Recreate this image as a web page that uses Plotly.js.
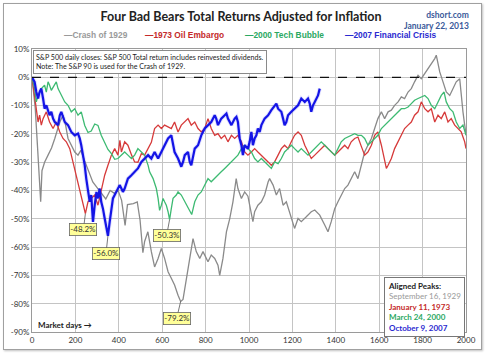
<!DOCTYPE html>
<html>
<head>
<meta charset="utf-8">
<script src="https://cdn.plot.ly/plotly-3.0.1.min.js"></script>
<style>
html,body{margin:0;padding:0;background:#fff;}
#wrap{position:relative;width:485px;height:356px;}
#chart{width:485px;height:356px;}
#frame{position:absolute;left:3px;top:3px;width:477px;height:345px;border:1px solid #a0a0a0;pointer-events:none;box-shadow:1px 1px 2px rgba(0,0,0,0.25);}
</style>
</head>
<body>
<div id="wrap"><div id="chart"></div><div id="frame"></div></div>
<script>
// ---- Data (market days since aligned peak, real total return %) ----
const seriesNames = ["Crash of 1929", "1973 Oil Embargo", "2000 Tech Bubble", "2007 Financial Crisis"];
const peakDates = ["September 16, 1929", "January 11, 1973", "March 24, 2000", "October 9, 2007"];
const sourceLines = ["dshort.com", "January 22, 2013"];

const crashDays = [0,15,25,31,40,46,58,74,90,105,120,128,143,155,166,180,197,212,225,240,260,280,300,320,340,360,380,397,413,429,440,467,485,498,511,519,534,550,565,581,596,611,627,642,657,673,685,696,711,727,742,757,773,788,811,826,842,857,865,880,896,911,926,941,949,965,980,995,1018,1026,1041,1057,1072,1088,1095,1111,1126,1141,1157,1172,1187,1203,1210,1226,1241,1264,1287,1303,1326,1349,1364,1379,1395,1410,1425,1441,1456,1471,1487,1502,1518,1533,1548,1564,1579,1594,1610,1625,1641,1656,1671,1687,1702,1717,1733,1748,1763,1779,1794,1810,1825,1840,1856,1863,1879,1894,1909,1925,1940,1955,1971,1978,1986,1994,2000];
const crashVals = [0,-11,-24,-33,-44,-33,-30,-27.5,-25,-21.6,-18,-15.8,-13.4,-17,-21.6,-24,-26.4,-27.5,-25.8,-29,-33,-37,-39,-41,-43,-40,-41,-40,-43.5,-52.3,-45,-44.6,-44,-50.5,-62,-58,-54.6,-61.6,-67,-64,-60.5,-64,-68.7,-71,-73.4,-77,-79.2,-78.5,-71,-64,-57,-61.6,-64,-61.6,-65.2,-62.8,-64,-66.4,-70,-64,-54.6,-50,-44,-35.8,-39.3,-42.8,-40.5,-42,-51,-47.5,-45.2,-44,-41.6,-37,-35.8,-38.1,-41.6,-39.3,-45.2,-44,-47.5,-51,-53.4,-49.9,-51,-49.3,-47.5,-46.9,-48.7,-52.2,-54.6,-51,-46.4,-44,-41.6,-39.3,-38.1,-35.8,-33.4,-35.8,-31.1,-26.4,-24,-21.6,-18.1,-14.6,-12.2,-14.6,-12.2,-11.6,-9.9,-8.7,-6.9,-7.5,-5.2,-4,-1.6,0.7,-0.5,1.3,3.1,4.8,6.6,7.8,1.9,-1.6,-5.2,-6.4,-4,-1.6,-0.5,-6.4,-12.2,-16.9,-20];

const oilDays = [0,12,20,28,35,43,51,66,81,97,112,128,143,158,174,189,204,220,235,246,258,273,289,304,319,335,350,366,381,396,405,412,427,442,459,473,488,504,519,535,550,565,581,596,611,627,642,657,673,688,704,719,734,750,765,780,796,811,826,842,857,872,888,903,919,934,949,965,980,995,1011,1026,1041,1057,1072,1088,1103,1118,1134,1149,1164,1180,1195,1210,1226,1241,1257,1272,1287,1303,1318,1333,1349,1364,1379,1395,1410,1425,1441,1456,1471,1487,1502,1518,1533,1548,1564,1579,1594,1610,1625,1633,1641,1656,1671,1687,1702,1717,1733,1748,1763,1779,1794,1810,1825,1840,1856,1871,1886,1902,1917,1932,1948,1963,1978,1994,2000];
const oilVals = [0,-6.4,-12.2,-15.8,-13.4,-16.9,-14.6,-12.2,-15.8,-18.1,-15.8,-19.3,-21.6,-22.8,-25.2,-29.9,-34.6,-39.3,-44,-48.2,-44,-42.8,-41.6,-45.2,-40.5,-34.6,-31.1,-27.5,-25.2,-27.5,-22.3,-26.4,-22.8,-24,-27.5,-29.9,-30,-27,-27.5,-25,-23,-18.1,-16.9,-18.1,-16.9,-17.5,-18.1,-15.8,-19.3,-16.9,-15.8,-14.6,-16.9,-15.8,-18.1,-19.3,-18.1,-14.6,-18.1,-20.5,-19.9,-21.6,-20.5,-22.8,-20.5,-21.6,-20.5,-22.8,-26.4,-27.5,-26.4,-25.2,-26.4,-27.5,-28.7,-29.9,-31.1,-29.9,-27.5,-25.2,-24,-25.2,-22.8,-20.5,-19.3,-20.5,-24,-26.4,-28.7,-27.5,-26.4,-25.2,-24,-25.2,-26.4,-27.5,-26.4,-25.2,-24,-25.2,-22.8,-21.6,-21.1,-24.5,-27.5,-26.4,-24,-20.5,-19.3,-24,-29.9,-32.2,-31.1,-28.7,-25.2,-22.8,-20.5,-18.1,-16.9,-15.8,-13.4,-12.2,-8.7,-11.1,-12.2,-11.1,-15.8,-13.4,-14.6,-12.2,-15.8,-14.6,-16.9,-18.1,-19.3,-22.8,-25.2];

const techDays = [0,12,20,28,43,58,66,74,81,89,105,112,120,135,151,166,181,197,212,227,243,258,273,289,304,319,335,350,366,381,396,412,427,442,458,473,488,504,519,535,542,558,573,581,588,596,604,611,619,627,634,642,650,665,673,688,704,719,736,750,765,780,796,811,826,842,857,872,888,903,919,934,949,965,980,995,1011,1026,1041,1057,1072,1088,1103,1118,1134,1149,1164,1180,1195,1210,1226,1241,1257,1272,1287,1303,1318,1333,1349,1364,1379,1395,1410,1425,1441,1456,1471,1487,1502,1518,1533,1548,1564,1579,1594,1610,1625,1641,1656,1671,1687,1702,1717,1733,1748,1763,1779,1794,1810,1825,1840,1856,1871,1886,1899,1909,1925,1940,1955,1971,1986,2000];
const techVals = [0,-4,-8.7,-6.4,-4,-2.8,-5.2,-1.6,-2.8,-4.6,-2.5,-1.6,-4,-6.4,-8.7,-9.9,-12.2,-11.1,-13.4,-12.2,-17,-19.5,-19,-16.5,-17,-20.5,-22.8,-25.5,-27,-29,-28.7,-27.5,-26.4,-27.5,-28.7,-27.5,-25.2,-26.4,-27.5,-31.1,-33.4,-35.8,-39.3,-42.8,-47,-45.2,-42.8,-44,-45.2,-47.5,-50.3,-46.4,-42.8,-41.6,-40.5,-41.6,-44,-46.4,-48.5,-44,-41.6,-40.5,-38.1,-35.8,-36.9,-35.8,-34.6,-33.4,-32.2,-31.1,-29.9,-28.7,-27.5,-25.2,-24,-25.2,-26.4,-28.7,-29.9,-28.7,-29.9,-31.1,-32.2,-29.9,-30.5,-28.7,-26.4,-25.2,-24,-25.2,-26.4,-25.2,-26.4,-27.5,-26.4,-25.2,-24,-22.8,-24,-25.2,-26.4,-27.5,-25.2,-22.8,-21.6,-21.1,-20.5,-19.9,-20.5,-20.5,-21.6,-24,-22.8,-21.6,-20.5,-18.1,-16.9,-15.8,-14.6,-13.4,-12.2,-11.1,-11.1,-10.5,-9.3,-8.1,-7.5,-6.9,-6.4,-7.5,-9.9,-11.1,-8.7,-6.4,-5.2,-8.7,-11.1,-12.2,-15.8,-18.1,-16.9,-20.5];

const finDays = [0,12,20,28,35,43,51,58,66,74,81,89,97,105,120,128,135,151,166,181,197,212,220,227,235,243,250,258,266,273,281,289,297,304,312,319,327,335,343,350,358,366,373,381,389,396,404,412,419,427,442,458,473,488,504,519,535,550,565,581,596,611,627,642,650,657,673,688,696,704,719,727,734,742,750,765,773,780,796,811,826,842,849,857,872,888,896,903,919,934,942,949,957,965,972,980,995,1003,1011,1018,1026,1034,1041,1049,1057,1072,1088,1103,1118,1126,1134,1149,1157,1164,1172,1180,1195,1210,1226,1241,1257,1272,1280,1287,1295,1303,1310,1318,1326];
const finVals = [0,-1.6,-5.2,-7.5,-5.2,-4,-7.5,-11.1,-9.9,-12.2,-13.4,-12.2,-14.6,-15.8,-16.9,-13.4,-12.2,-15.8,-16.9,-19.3,-20.5,-19.9,-21.6,-24,-27.5,-31.1,-35.8,-40.5,-44,-41.6,-51.1,-45.2,-40.5,-42.8,-39.3,-44,-46.4,-49.9,-53.4,-56.0,-51.1,-46.4,-42.8,-41.6,-40.5,-39.3,-38.1,-39.3,-40.5,-39.3,-35.8,-34.6,-33.4,-32.2,-29.9,-28.7,-27.5,-28.7,-26.4,-28.7,-26.4,-24,-21.6,-20.5,-24,-26.4,-28.7,-31.6,-29.9,-27.5,-26.4,-29.9,-31.1,-27.5,-25.2,-24,-21.6,-20.5,-18.1,-16.9,-15.8,-13.4,-14.6,-16.9,-14.6,-13.4,-12.8,-14.6,-16.9,-14.6,-14,-15.8,-21.6,-24,-27.5,-24,-25.2,-22.8,-19.3,-24,-21.6,-20.5,-18.1,-19.3,-16.9,-14.6,-13.4,-11.6,-9.9,-9.3,-11.1,-12.2,-14.6,-16.9,-15.8,-13.4,-12.2,-11.1,-9.9,-7.5,-8.7,-7.5,-9.3,-12.2,-9.9,-8.7,-7.5,-6.4,-4];

const xTickVals = [0,200,400,600,800,1000,1200,1400,1600,1800,2000];
const yTickVals = [10,0,-10,-20,-30,-40,-50,-60,-70,-80,-90];
const yTickText = ["10%","0%","-10%","-20%","-30%","-40%","-50%","-60%","-70%","-80%","-90%"];

const noteLines = ["S&P 500 daily closes: S&P 500 Total return includes reinvested dividends.", "Note: The S&P 90 is used for the Crash of 1929."];

// ---- Styles ----
const lineColors = ["#8a8a8a", "#d63a3a", "#3dba72", "#1414e6"];
const textColors = ["#9a9a9a", "#c42a2a", "#2aa862", "#2a2ad0"];
const FONT = "Lato, 'Open Sans', sans-serif";

const allDays = [crashDays, oilDays, techDays, finDays];
const allVals = [crashVals, oilVals, techVals, finVals];

const traces = [];
for (let i = 0; i < 4; i++) {
  if (i === 3) {
    traces.push({x: allDays[i], y: allVals[i], type: "scatter", mode: "lines",
      line: {color: "rgba(40,40,255,0.15)", width: 4}, hoverinfo: "skip", showlegend: false});
  }
  traces.push({x: allDays[i], y: allVals[i], type: "scatter", mode: "lines", name: seriesNames[i],
    line: {color: lineColors[i], width: i === 3 ? 2.2 : 1.3}, showlegend: false});
}

const annotations = [];
// legend made of text with a dash, like the original
const legX = [0.069, 0.256, 0.486, 0.717];
for (let i = 0; i < 4; i++) {
  annotations.push({xref: "paper", yref: "paper", x: legX[i], y: 1.05, xanchor: "left", yanchor: "middle",
    showarrow: false, text: "<b>\u2014" + seriesNames[i] + "</b>",
    font: {family: "'Liberation Sans', Arial, sans-serif", size: 8.4, color: textColors[i]}});
}
// trough labels: placed at each series' minimum
const offs = [[-4, 17], [-2, 16], [-3, 16], [-2, 18]];
for (let i = 0; i < 4; i++) {
  let k = 0;
  for (let j = 1; j < allVals[i].length; j++) if (allVals[i][j] < allVals[i][k]) k = j;
  annotations.push({xref: "x", yref: "y", x: allDays[i][k], y: allVals[i][k],
    text: allVals[i][k].toFixed(1) + "%", showarrow: true, arrowhead: 0, arrowwidth: 0.8, arrowcolor: "#555",
    ax: offs[i][0], ay: offs[i][1], bgcolor: "#ffff99", bordercolor: "#666", borderwidth: 0.8, borderpad: 0.5,
    font: {family: FONT, size: 8, color: "#333"}});
}
annotations.push({xref: "paper", yref: "paper", x: 0.002, y: 0.997, xanchor: "left", yanchor: "top",
  showarrow: false, align: "left", text: noteLines.join("<br>"), bgcolor: "#ffffff", bordercolor: "#8a8a8a",
  borderwidth: 1, borderpad: 2, font: {family: FONT, size: 7.1, color: "#222"}});
annotations.push({xref: "paper", yref: "paper", x: 0.811, y: 0.194, xanchor: "left", yanchor: "top",
  showarrow: false, align: "left",
  text: "<b>Aligned Peaks:</b><br>" + peakDates.map((d, i) => '<span style="color:' + textColors[i] + '">' + (i ? "<b>" + d + "</b>" : d) + "</span>").join("<br>"),
  bgcolor: "#ffffff", bordercolor: "#777", borderwidth: 1, borderpad: 3,
  font: {family: FONT, size: 8, color: "#222"}});
annotations.push({xref: "paper", yref: "paper", x: 0.009, y: 0.025, xanchor: "left", yanchor: "middle",
  showarrow: false, text: "<b>Market days \u2192</b>", font: {family: FONT, size: 8, color: "#222"}});
annotations.push({xref: "paper", yref: "paper", x: 1.012, y: 1.145, xanchor: "right", yanchor: "top",
  showarrow: false, align: "right", text: sourceLines.map(s => "<b>" + s + "</b>").join("<br>"),
  font: {family: FONT, size: 8.5, color: "#3a5a9a"}});

const layout = {
  width: 485, height: 356,
  margin: {l: 32, r: 19, t: 49, b: 24, pad: 0},
  paper_bgcolor: "#ffffff", plot_bgcolor: "#ffffff",
  title: {text: "<b>Four Bad Bears Total Returns Adjusted for Inflation</b>", x: 0.497, xref: "container",
    y: 0.953, yref: "container", yanchor: "middle", font: {family: FONT, size: 12.5, color: "#222"}},
  xaxis: {range: [0, 2000], tickvals: xTickVals, showgrid: true, gridcolor: "#c4c4c4", gridwidth: 1,
    zeroline: false, showline: true, linecolor: "#9a9a9a", linewidth: 1, mirror: true, ticks: "",
    tickfont: {family: FONT, size: 8, color: "#333"}},
  yaxis: {range: [-90, 10], tickvals: yTickVals, ticktext: yTickText, showgrid: true, gridcolor: "#c4c4c4",
    gridwidth: 1, zeroline: false, showline: true, linecolor: "#9a9a9a", linewidth: 1, mirror: true, ticks: "",
    tickfont: {family: FONT, size: 8, color: "#333"}},
  shapes: [{type: "line", xref: "paper", x0: 0, x1: 1, yref: "y", y0: 0, y1: 0,
    line: {color: "#111", width: 1.2, dash: "dash"}, layer: "above"}],
  annotations: annotations,
  showlegend: false
};

Plotly.newPlot("chart", traces, layout, {displayModeBar: false, staticPlot: true});
</script>
</body>
</html>
